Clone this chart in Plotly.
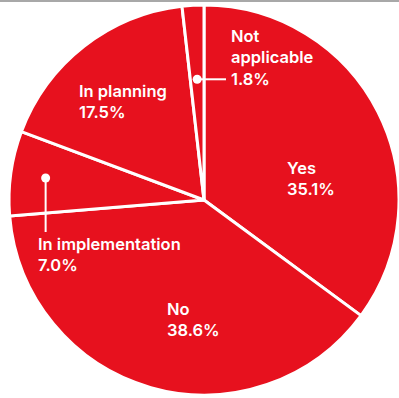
import math
import plotly.graph_objects as go

# ---- data ----
labels = ["Yes", "No", "In implementation", "In planning", "Not applicable"]
values = [35.1, 38.6, 7.0, 17.5, 1.8]
label_text = ["Yes<br>35.1%", "No<br>38.6%", "In implementation<br>7.0%",
              "In planning<br>17.5%", "Not<br>applicable<br>1.8%"]

# ---- style / layout ----
W, H = 399, 398
RED = "#E7111E"
CX, CY, R = 204, 200, 195  # pie centre / radius in pixels

# label anchor positions (pixels, left / block middle)
label_pos = {
    "Yes": (286, 178.5),
    "No": (166, 319.5),
    "In implementation": (37, 254),
    "In planning": (78, 101.5),
    "Not applicable": (230, 57.5),
}
# leader lines: radius fraction for dot and end point of line
leaders = {
    "Not applicable": {"rfrac": 0.62, "dir": "h", "end": 226},
    "In implementation": {"rfrac": 0.82, "dir": "v", "end": 232},
}


def px(x):
    return x / W


def py(y):
    return 1 - y / H


fig = go.Figure(go.Pie(
    labels=labels,
    values=values,
    sort=False,
    direction="clockwise",
    rotation=0,
    textinfo="none",
    hoverinfo="label+percent",
    marker=dict(colors=[RED] * len(values), line=dict(color="white", width=3)),
    domain=dict(x=[px(CX - R), px(CX + R)], y=[py(CY + R), py(CY - R)]),
    showlegend=False,
))

# angles of slice midpoints (clockwise from 12 o'clock)
total = sum(values)
cum = 0.0
mids = {}
for lab, v in zip(labels, values):
    mids[lab] = (cum + v / 2) / total * 2 * math.pi
    cum += v

shapes = [dict(type="line", xref="paper", yref="paper", x0=0, x1=1,
               y0=py(1), y1=py(1), line=dict(color="#A8A8A8", width=2))]
for lab, cfg in leaders.items():
    a = mids[lab]
    r = R * cfg["rfrac"]
    dx = CX + r * math.sin(a)
    dy = CY - r * math.cos(a)
    if cfg["dir"] == "h":
        x1, y1 = cfg["end"], dy
    else:
        x1, y1 = dx, cfg["end"]
    shapes.append(dict(type="line", xref="paper", yref="paper",
                       x0=px(dx), y0=py(dy), x1=px(x1), y1=py(y1),
                       line=dict(color="white", width=2)))
    rr = 4.5
    shapes.append(dict(type="circle", xref="paper", yref="paper",
                       x0=px(dx - rr), x1=px(dx + rr), y0=py(dy + rr), y1=py(dy - rr),
                       fillcolor="white", line=dict(color="white", width=0)))

annotations = []
for lab, txt in zip(labels, label_text):
    x, y = label_pos[lab]
    annotations.append(dict(
        x=px(x), y=py(y), xref="paper", yref="paper", text=txt,
        showarrow=False, xanchor="left", yanchor="middle", align="left",
        borderpad=0,
        font=dict(family="Inter", size=16.5, color="white", weight=600),
    ))

fig.update_layout(
    width=W, height=H,
    margin=dict(l=0, r=0, t=0, b=0),
    paper_bgcolor="white", plot_bgcolor="white",
    shapes=shapes, annotations=annotations,
)

fig.write_html("out.html")
